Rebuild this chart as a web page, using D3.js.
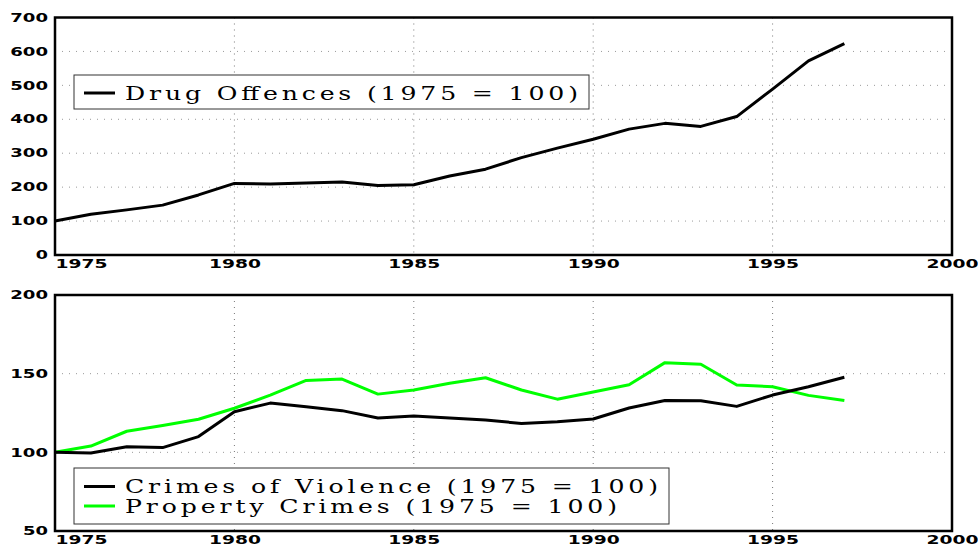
<!DOCTYPE html>
<html>
<head>
<meta charset="utf-8">
<script src="https://cdn.jsdelivr.net/npm/d3@7"></script>
<style>
  html, body { margin: 0; padding: 0; background: #fff; }
  svg { display: block; }
</style>
</head>
<body>
<svg id="chart" width="978" height="548"></svg>
<script>
// ---- Data ----
const years = [1975,1976,1977,1978,1979,1980,1981,1982,1983,1984,1985,1986,1987,1988,1989,1990,1991,1992,1993,1994,1995,1996,1997];
const drugOffences = [100,120,133,147,177,211,209,212,215,205,207,233,253,287,315,341,371,388,379,408,489,572,623];
const crimesOfViolence = [100,99.6,103.6,103,110,125.8,131.3,129,126.5,121.8,123.1,121.8,120.5,118.4,119.5,121.2,128.2,133,132.8,129.2,136.4,141.7,147.7];
const propertyCrimes = [100,104,113.4,117,121,128,136.4,145.7,146.6,137,139.6,143.9,147.4,139.6,133.8,138.4,143,157,156,142.8,141.7,136.2,133];
const xTicks = [1975,1980,1985,1990,1995,2000];
const yTicksTop = [0,100,200,300,400,500,600,700];
const yTicksBottom = [50,100,150,200];
const legendTop = ["Drug Offences (1975 = 100)"];
const legendBottom = ["Crimes of Violence (1975 = 100)", "Property Crimes (1975 = 100)"];
const colors = { drug: "#000000", violence: "#000000", property: "#00ff00" };

const svg = d3.select("#chart");
const left = 55, right = 952;
const x = d3.scaleLinear().domain([1975, 2000]).range([left, right]);
const stretch = 1.4;

function panel(cfg) {
  const y = d3.scaleLinear().domain(cfg.domain).range([cfg.bottom, cfg.top]);
  const g = svg.append("g");

  // horizontal grid
  g.append("g").selectAll("line")
    .data(cfg.yTicks.filter(v => v !== cfg.domain[0] && v !== cfg.domain[1]))
    .join("line")
    .attr("x1", left).attr("x2", right)
    .attr("y1", d => y(d)).attr("y2", d => y(d))
    .attr("stroke", "#9a9a9a").attr("stroke-width", 1)
    .attr("stroke-dasharray", "1,6");
  // vertical grid
  g.append("g").selectAll("line")
    .data(xTicks.filter(v => v !== 1975 && v !== 2000))
    .join("line")
    .attr("x1", d => x(d)).attr("x2", d => x(d))
    .attr("y1", cfg.top).attr("y2", cfg.bottom)
    .attr("stroke", "#777").attr("stroke-width", 1)
    .attr("stroke-dasharray", "1,5");

  // series
  const line = d3.line().x((d, i) => x(years[i])).y(d => y(d));
  cfg.series.forEach(s => {
    g.append("path").datum(s.values)
      .attr("d", line)
      .attr("fill", "none")
      .attr("stroke", s.color)
      .attr("stroke-width", 3)
      .attr("stroke-linejoin", "round");
  });

  // frame
  g.append("rect")
    .attr("x", left).attr("y", cfg.top)
    .attr("width", right - left).attr("height", cfg.bottom - cfg.top)
    .attr("fill", "none").attr("stroke", "#000").attr("stroke-width", 2.5);

  // y axis labels
  const yAxis = d3.axisLeft(y).tickValues(cfg.yTicks).tickSize(0).tickPadding(0);
  const ya = g.append("g").attr("transform", `translate(${left - 7},0)`).call(yAxis);
  ya.select(".domain").remove();
  ya.selectAll("text")
    .attr("font-family", "DejaVu Sans").attr("font-size", 11.5).attr("font-weight", "bold")
    .attr("fill", "#000")
    .attr("textLength", d => String(d).length * 12.8 - 0.6)
    .attr("lengthAdjust", "spacingAndGlyphs");

  // x axis labels
  const xAxis = d3.axisBottom(x).tickValues(xTicks).tickSize(0).tickPadding(0).tickFormat(d3.format("d"));
  const xa = g.append("g").attr("transform", `translate(0,${cfg.bottom + 5})`).call(xAxis);
  xa.select(".domain").remove();
  xa.selectAll("text")
    .attr("font-family", "DejaVu Sans").attr("font-size", 11.5).attr("font-weight", "bold")
    .attr("fill", "#000")
    .attr("textLength", 52)
    .attr("lengthAdjust", "spacingAndGlyphs")
    .attr("text-anchor", d => d === 1975 ? "start" : "middle");

  // legend
  const lg = g.append("g");
  lg.append("rect")
    .attr("x", cfg.legend.x).attr("y", cfg.legend.y)
    .attr("width", cfg.legend.w).attr("height", cfg.legend.h)
    .attr("fill", "#fff").attr("stroke", "#333").attr("stroke-width", 1);
  cfg.legend.items.forEach((it, i) => {
    const ly = cfg.legend.rowY[i];
    lg.append("line")
      .attr("x1", cfg.legend.x + 10).attr("x2", cfg.legend.x + 41)
      .attr("y1", ly).attr("y2", ly)
      .attr("stroke", it.color).attr("stroke-width", 3);
    lg.append("g")
      .attr("transform", `translate(${cfg.legend.x + 51},${ly + 6.5}) scale(${stretch},1)`)
      .append("text")
      .attr("x", 0).attr("y", 0)
      .attr("font-family", "DejaVu Serif").attr("font-size", 18)
      .attr("fill", "#000")
      .attr("textLength", it.width / stretch)
      .attr("lengthAdjust", "spacing")
      .text(it.label);
  });
}

panel({
  domain: [0, 700], top: 17.5, bottom: 255, yTicks: yTicksTop,
  series: [{ values: drugOffences, color: colors.drug }],
  legend: { x: 74, y: 75, w: 515, h: 34, rowY: [93],
    items: [{ label: legendTop[0], color: colors.drug, width: 453 }] }
});

panel({
  domain: [50, 200], top: 295, bottom: 531, yTicks: yTicksBottom,
  series: [{ values: propertyCrimes, color: colors.property }, { values: crimesOfViolence, color: colors.violence }],
  legend: { x: 74, y: 468, w: 595, h: 56, rowY: [486.5, 506],
    items: [{ label: legendBottom[0], color: colors.violence, width: 533 },
            { label: legendBottom[1], color: colors.property, width: 492 }] }
});
</script>
</body>
</html>
